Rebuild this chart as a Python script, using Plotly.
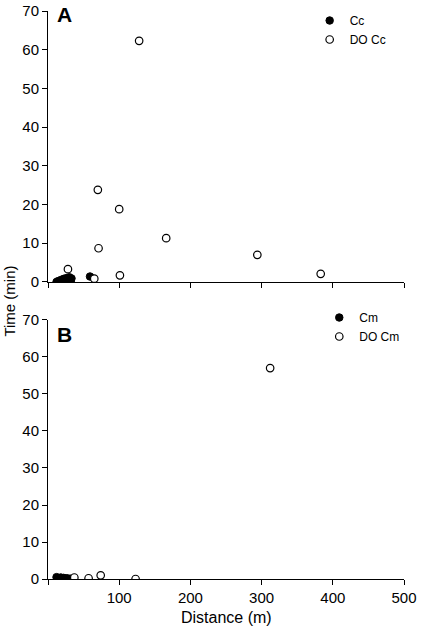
import plotly.graph_objects as go

# Panel A data
cc_x = [12, 14, 16, 18, 20, 22, 24, 26, 28, 30, 32, 33, 59]
cc_y = [0.0, 0.2, 0.1, 0.5, 0.3, 0.8, 0.4, 1.0, 0.6, 1.2, 0.2, 0.9, 1.4]
docc_x = [128, 70, 100, 166, 71, 294, 383, 101, 65, 28]
docc_y = [62.3, 23.8, 18.8, 11.3, 8.7, 7.0, 2.1, 1.7, 0.85, 3.3]

# Panel B data
cm_x = [12, 14, 16, 18, 20, 22, 24, 26, 28, 30, 32]
cm_y = [0.5, 0.3, 0.2, 0.4, 0.1, 0.3, 0.0, 0.2, 0.1, 0.0, 0.1]
docm_x = [37, 57, 74, 123, 312]
docm_y = [0.4, 0.2, 1.0, 0.0, 57.0]

y_ticks = [0, 10, 20, 30, 40, 50, 60, 70]
x_ticks = [0, 100, 200, 300, 400, 500]
x_ticktext = ["", "100", "200", "300", "400", "500"]

FONT = "Arial, Liberation Sans, sans-serif"

fig = go.Figure()

filled = dict(size=7.5, color="black", line=dict(color="black", width=1))
openm = dict(size=7.5, color="white", line=dict(color="black", width=1.2))

fig.add_trace(go.Scatter(x=cc_x, y=cc_y, mode="markers", marker=filled, name="Cc",
                         xaxis="x", yaxis="y", legend="legend"))
fig.add_trace(go.Scatter(x=docc_x, y=docc_y, mode="markers", marker=openm, name="DO Cc",
                         xaxis="x", yaxis="y", legend="legend"))
fig.add_trace(go.Scatter(x=cm_x, y=cm_y, mode="markers", marker=filled, name="Cm",
                         xaxis="x2", yaxis="y2", legend="legend2"))
fig.add_trace(go.Scatter(x=docm_x, y=docm_y, mode="markers", marker=openm, name="DO Cm",
                         xaxis="x2", yaxis="y2", legend="legend2"))

xcommon = dict(range=[0, 500], tickvals=x_ticks, showline=True, linecolor="black",
               linewidth=1, ticks="outside", ticklen=5, tickcolor="black",
               showgrid=False, zeroline=False, tickfont=dict(family=FONT, size=15, color="black"))
ycommon = dict(range=[0, 70], tickvals=y_ticks, showline=True, linecolor="black",
               linewidth=1, ticks="outside", ticklen=5, tickcolor="black",
               showgrid=False, zeroline=False, tickfont=dict(family=FONT, size=15, color="black"))

legend_common = dict(font=dict(family=FONT, size=12, color="black"), bgcolor="rgba(0,0,0,0)",
                     itemwidth=30, tracegroupgap=0, xanchor="left", yanchor="top",
                     yref="container", xref="paper")

fig.update_layout(
    width=426, height=632,
    margin=dict(l=48, r=22, t=11, b=53, autoexpand=False),
    paper_bgcolor="white", plot_bgcolor="white",
    xaxis=dict(**xcommon, domain=[0, 1], anchor="y", showticklabels=False),
    yaxis=dict(**ycommon, domain=[0.523, 1.0], anchor="x"),
    xaxis2=dict(**xcommon, domain=[0, 1], anchor="y2", ticktext=x_ticktext),
    yaxis2=dict(**ycommon, domain=[0.0, 0.456], anchor="x2"),
    legend=dict(**legend_common, x=0.735, y=1 - 6 / 632),
    legend2=dict(**legend_common, x=0.762, y=1 - 303 / 632),
    annotations=[
        dict(text="<b>A</b>", x=0.045, y=0.993, xref="paper", yref="paper", showarrow=False,
             xanchor="center", yanchor="middle", font=dict(family=FONT, size=21, color="black")),
        dict(text="<b>B</b>", x=0.045, y=0.431, xref="paper", yref="paper", showarrow=False,
             xanchor="center", yanchor="middle", font=dict(family=FONT, size=21, color="black")),
        dict(text="Time (min)", x=-0.107, y=0.49, xref="paper", yref="paper", showarrow=False,
             textangle=-90, xanchor="center", yanchor="middle",
             font=dict(family=FONT, size=15, color="black")),
        dict(text="Distance (m)", x=0.5, y=-0.067, xref="paper", yref="paper", showarrow=False,
             xanchor="center", yanchor="middle", font=dict(family=FONT, size=16, color="black")),
    ],
)

fig.write_html("out.html")
